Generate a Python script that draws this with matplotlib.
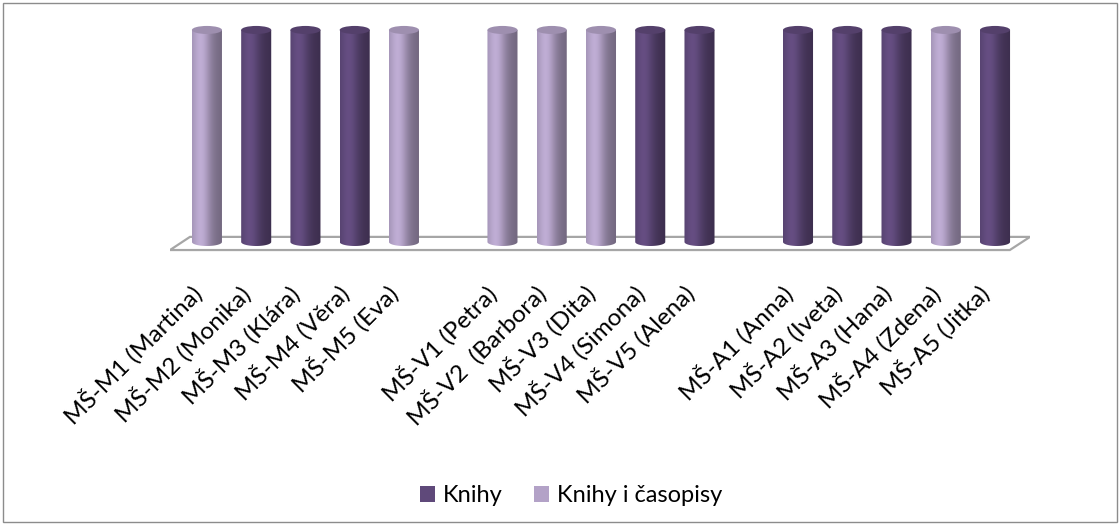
import numpy as np
import matplotlib
matplotlib.use('Agg')
import matplotlib.pyplot as plt
from matplotlib.patches import Ellipse, Polygon, Rectangle, Patch, PathPatch
from matplotlib.path import Path
from matplotlib.transforms import ScaledTranslation

plt.rcParams['font.family'] = ['Lato', 'DejaVu Sans']

# data: one slot per category, empty slots separate the three groups
categories = ['MŠ-M1 (Martina)', 'MŠ-M2 (Monika)', 'MŠ-M3 (Klára)', 'MŠ-M4 (Věra)', 'MŠ-M5 (Eva)', '',
              'MŠ-V1 (Petra)', 'MŠ-V2  (Barbora)', 'MŠ-V3 (Dita)', 'MŠ-V4 (Simona)', 'MŠ-V5 (Alena)', '',
              'MŠ-A1 (Anna)', 'MŠ-A2 (Iveta)', 'MŠ-A3 (Hana)', 'MŠ-A4 (Zdena)', 'MŠ-A5 (Jitka)']
knihy = [0, 1, 1, 1, 0, 0,
         0, 0, 0, 1, 1, 0,
         1, 1, 1, 0, 1]
knihy_casopisy = [1, 0, 0, 0, 1, 0,
                  1, 1, 1, 0, 0, 0,
                  0, 0, 0, 1, 0]
series_names = ['Knihy', 'Knihy i časopisy']
colors = ['#5f497a', '#b3a2c7']

fig = plt.figure(figsize=(11.2, 5.25), dpi=100)
fig.patches.append(Rectangle((0.003, 0.005), 0.994, 0.99, transform=fig.transFigure,
                             fill=False, edgecolor='#8c8c8c', linewidth=1.0))

ax = fig.add_axes([170 / 1120, 1 - 260 / 525, 860 / 1120, 240 / 525])
ax.set_xlim(-0.75, 16.71)
ax.set_ylim(-0.085, 1.047)
for s in ax.spines.values():
    s.set_visible(False)
ax.set_yticks([])

# floor of the 3D chart
floor = Polygon([(-0.75, -0.038), (16.30, -0.038), (16.71, 0.024), (-0.345, 0.024)],
                closed=True, facecolor='white', edgecolor='#a6a6a6', linewidth=1.6, zorder=1)
ax.add_patch(floor)

x = np.arange(len(categories))
w = 0.61
eh = 0.038  # ellipse height in data units


def shade(col, n=64):
    rgb = np.array(matplotlib.colors.to_rgb(col))
    t = np.linspace(0, 1, n)
    f = 0.82 + 0.3 * np.exp(-((t - 0.3) / 0.3) ** 2) - 0.18 * t
    img = np.clip(rgb[None, :] * f[:, None], 0, 1)
    return img[None, :, :]


for vals, col, name in zip([knihy, knihy_casopisy], colors, series_names):
    bars = ax.bar(x, vals, w, color=col, label=name, zorder=2, linewidth=0)
    for b in bars:
        h = b.get_height()
        if h <= 0:
            continue
        x0 = b.get_x()
        xc = x0 + w / 2
        # body: rectangle + lower half ellipse
        ang = np.linspace(np.pi, 2 * np.pi, 30)
        verts = [(x0 + w, h), (x0, h)] + [(xc + w / 2 * np.cos(a), eh / 2 * np.sin(a)) for a in ang]
        verts.append(verts[0])
        patch = PathPatch(Path(verts, closed=True), facecolor='none', edgecolor='none')
        ax.add_patch(patch)
        im = ax.imshow(shade(col), extent=[x0, x0 + w, -eh, h], aspect='auto',
                       interpolation='bilinear', zorder=3)
        im.set_clip_path(patch)
        b.set_visible(False)
        top_col = np.clip(np.array(matplotlib.colors.to_rgb(col)) * 0.88, 0, 1)
        ax.add_patch(Ellipse((xc, h), w, eh, facecolor=top_col, edgecolor='none', zorder=4))

ax.set_xticks(x)
ax.set_xticklabels(categories, rotation=45, ha='right', rotation_mode='anchor', fontsize=17.5)
ax.tick_params(axis='x', length=0, pad=15)
for lab in ax.get_xticklabels():
    lab.set_transform(lab.get_transform() + ScaledTranslation(-18 / 100, 0, fig.dpi_scale_trans))

handles = [Patch(facecolor=c, edgecolor='none') for c in colors]
fig.legend(handles, series_names, loc='center', bbox_to_anchor=(0.51, 1 - 496 / 525), ncol=2,
           frameon=False, fontsize=17, handlelength=0.65, handleheight=0.65, handletextpad=0.35,
           columnspacing=1.3)

fig.savefig('out.png', dpi=100)
